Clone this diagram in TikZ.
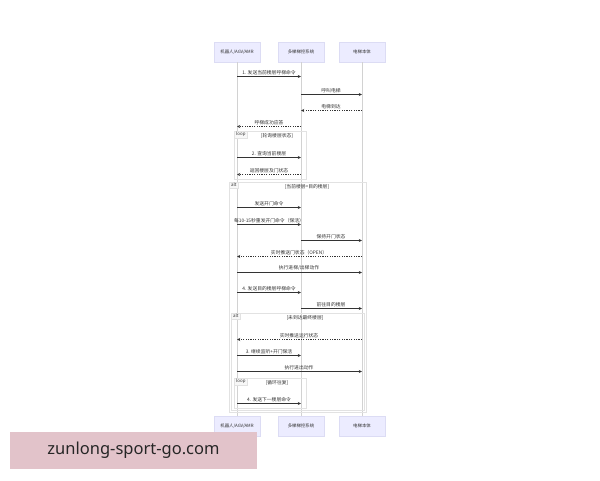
\documentclass[tikz,border=0pt]{standalone}
\usepackage{fontspec}
\usepackage{tikz}
\usetikzlibrary{arrows.meta}
\newfontfamily\cjk{Noto Sans CJK SC}
\newfontfamily\wmfont{Noto Sans}
\definecolor{actorfill}{HTML}{ECECFF}
\definecolor{actorline}{HTML}{DCDCF4}
\definecolor{inkgray}{HTML}{333333}
\definecolor{framegray}{HTML}{E2E2E2}
\definecolor{wmpink}{HTML}{E2C3CA}
\tikzstyle{actor}=[rectangle,fill=actorfill,draw=actorline,line width=0.4pt,minimum width=46pt,minimum height=20pt,inner sep=0pt,font=\cjk\fontsize{4.4}{5}\selectfont,text=inkgray]
\tikzstyle{msg}=[font=\cjk\fontsize{4.8}{5.5}\selectfont,text=inkgray,inner xsep=1pt,inner ysep=1.5pt]
\tikzstyle{call}=[draw=inkgray,line width=0.6pt,-{Stealth[length=3.2pt,width=3pt]}]
\tikzstyle{reply}=[call,dash pattern=on 1.2pt off 1.2pt]
\tikzstyle{life}=[draw=gray!35,line width=0.5pt]
\tikzstyle{frame}=[draw=framegray,line width=0.6pt]
\tikzstyle{tag}=[anchor=north west,fill=gray!6,draw=framegray,line width=0.4pt,inner xsep=2pt,inner ysep=1pt,font=\cjk\fontsize{4.4}{5}\selectfont,text=inkgray]
\tikzstyle{cond}=[msg,font=\cjk\fontsize{4.8}{5.5}\selectfont,inner sep=0.5pt]

\begin{document}
\begin{tikzpicture}[x=1pt,y=-1pt]
      \fill[white] (0,0) rectangle (600,480);
      \node[actor] (robot) at (237,52) {机器人/AGV/AMR};
      \node[actor] (ctrl) at (301,52) {多梯梯控系统};
      \node[actor] (lift) at (362,52) {电梯本体};
      \node[actor] (robotB) at (237,426) {机器人/AGV/AMR};
      \node[actor] (ctrlB) at (301,426) {多梯梯控系统};
      \node[actor] (liftB) at (362,426) {电梯本体};
      \draw[life] (robot.south) -- (robotB.north);
      \draw[life] (ctrl.south) -- (ctrlB.north);
      \draw[life] (lift.south) -- (liftB.north);
      \draw[frame] (234,131) rectangle (306,179);
      \draw[frame] (229,182) rectangle (366,412);
      \draw[frame] (231,313) rectangle (364,410);
      \draw[frame] (234,378) rectangle (306,408);
      \node[tag] (loopA) at (234,131) {loop};
      \node[cond] (loopAc) at (277,135.5) {[轮询楼层状态]};
      \node[tag] (altA) at (229,182) {alt};
      \node[cond] (altAc) at (307,186.5) {[当前楼层=目的楼层]};
      \node[tag] (altB) at (231,313) {alt};
      \node[cond] (altBc) at (305,317.5) {[未到达最终楼层]};
      \node[tag] (loopB) at (234,378) {loop};
      \node[cond] (loopBc) at (277,382.5) {[循环往复]};
      \node[msg,above=1.5pt] (m1) at (269,78) {1. 发送当前楼层呼梯命令};
      \node[msg,above=1.5pt] (m2) at (331,96) {呼叫电梯};
      \node[msg,above=1.5pt] (m3) at (331,112) {电梯到达};
      \node[msg,above=1.5pt] (m4) at (269,128) {呼梯成功应答};
      \node[msg,above=1.5pt] (m5) at (269,159) {2. 查询当前楼层};
      \node[msg,above=1.5pt] (m6) at (269,176) {返回楼层及门状态};
      \node[msg,above=1.5pt] (m7) at (269,209) {发送开门命令};
      \node[msg,above=1.5pt] (m8) at (269,226) {每10-15秒重发开门命令（保活）};
      \node[msg,above=1.5pt] (m9) at (331,242) {保持开门状态};
      \node[msg,above=1.5pt] (m10) at (299,258) {实时推送门状态（OPEN）};
      \node[msg,above=1.5pt] (m11) at (299,274) {执行进梯/出梯动作};
      \node[msg,above=1.5pt] (m12) at (269,294) {4. 发送目的楼层呼梯命令};
      \node[msg,above=1.5pt] (m13) at (331,310) {前往目的楼层};
      \node[msg,above=1.5pt] (m14) at (299,341) {实时推送运行状态};
      \node[msg,above=1.5pt] (m15) at (269,357) {3. 继续监听+开门保活};
      \node[msg,above=1.5pt] (m16) at (299,373) {执行进出动作};
      \node[msg,above=1.5pt] (m17) at (269,405) {4. 发送下一楼层命令};
      \draw[call] (robot |- m1.south) -- (ctrl |- m1.south);
      \draw[call] (ctrl |- m2.south) -- (lift |- m2.south);
      \draw[reply] (lift |- m3.south) -- (ctrl |- m3.south);
      \draw[reply] (ctrl |- m4.south) -- (robot |- m4.south);
      \draw[call] (robot |- m5.south) -- (ctrl |- m5.south);
      \draw[reply] (ctrl |- m6.south) -- (robot |- m6.south);
      \draw[call] (robot |- m7.south) -- (ctrl |- m7.south);
      \draw[call] (robot |- m8.south) -- (ctrl |- m8.south);
      \draw[call] (ctrl |- m9.south) -- (lift |- m9.south);
      \draw[reply] (lift |- m10.south) -- (robot |- m10.south);
      \draw[call] (robot |- m11.south) -- (lift |- m11.south);
      \draw[call] (robot |- m12.south) -- (ctrl |- m12.south);
      \draw[call] (ctrl |- m13.south) -- (lift |- m13.south);
      \draw[reply] (lift |- m14.south) -- (robot |- m14.south);
      \draw[call] (robot |- m15.south) -- (ctrl |- m15.south);
      \draw[call] (robot |- m16.south) -- (lift |- m16.south);
      \draw[call] (robot |- m17.south) -- (ctrl |- m17.south);
      \node[fill=wmpink,minimum width=247pt,minimum height=37pt,inner sep=0pt,font=\wmfont\fontsize{16.5}{19}\selectfont,text=black!85] (site) at (133.5,450.5) {zunlong-sport-go.com};
    \end{tikzpicture}
\end{document}
